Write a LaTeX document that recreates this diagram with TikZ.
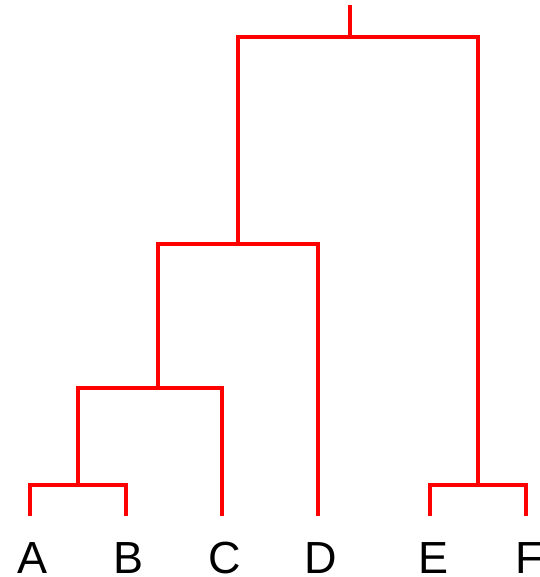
\documentclass[tikz,border=0pt]{standalone}
\usepackage{fontspec}
\setmainfont{Liberation Sans}
\usepackage{tikz}
\usepackage{xcolor}
\definecolor{tree}{HTML}{FF0000}

\begin{document}
\begin{tikzpicture}[x=1pt,y=-1pt,
  branch/.style={draw=tree,line width=4pt,line join=miter},
  leaf/.style={anchor=base,inner sep=0pt,text depth=0pt,font=\fontsize{45}{54}\selectfont}]
  \useasboundingbox (0,0) rectangle (539,577);

  % leaves: label under the end of each leg
  \foreach \n/\lbl/\x in {a/A/30, b/B/126, c/C/222, d/D/318, e/E/430, f/F/526} {
    \coordinate (\n) at (\x,516);
    \node[leaf] (l\n) at (\x+3,573) {\lbl};
  }

  % joins
  \coordinate (ab) at (78,485);
  \coordinate (abc) at (158,388);
  \coordinate (abcd) at (238,244);
  \coordinate (ef) at (478,485);
  \coordinate (root) at (350,37);
  \coordinate (top) at (350,5);

  \draw[branch] (ab) -| (a);
  \draw[branch] (ab) -| (b);
  \draw[branch] (abc) -| (ab);
  \draw[branch] (abc) -| (c);
  \draw[branch] (abcd) -| (abc);
  \draw[branch] (abcd) -| (d);
  \draw[branch] (ef) -| (e);
  \draw[branch] (ef) -| (f);
  \draw[branch] (root) -| (abcd);
  \draw[branch] (root) -| (ef);
  \draw[branch] (root) -- (top);
\end{tikzpicture}
\end{document}
